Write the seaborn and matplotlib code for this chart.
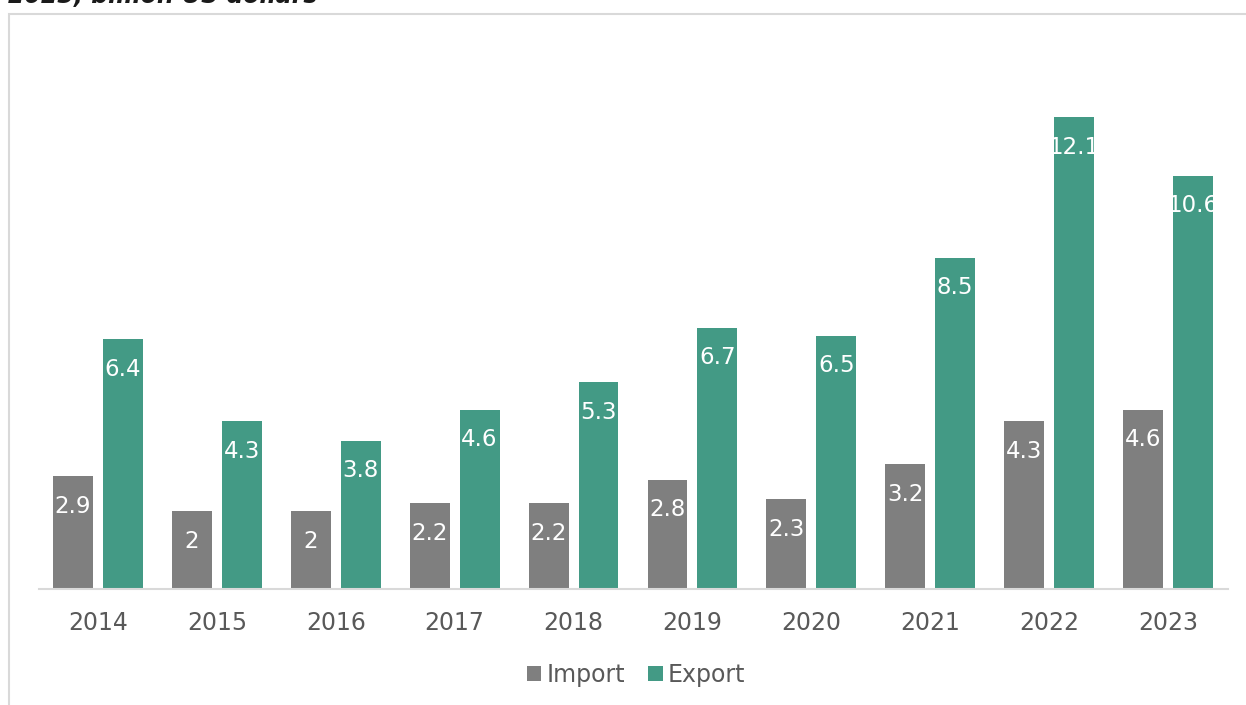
import matplotlib
matplotlib.use("Agg")
import matplotlib.pyplot as plt
import seaborn as sns
import pandas as pd
from matplotlib.patches import Rectangle

years = ["2014", "2015", "2016", "2017", "2018", "2019", "2020", "2021", "2022", "2023"]
imports = [2.9, 2.0, 2.0, 2.2, 2.2, 2.8, 2.3, 3.2, 4.3, 4.6]
exports = [6.4, 4.3, 3.8, 4.6, 5.3, 6.7, 6.5, 8.5, 12.1, 10.6]
series = ["Import", "Export"]
colors = ["#7f7f7f", "#439a85"]
title_text = "2023, billion US dollars"

df = pd.DataFrame({
    "year": years * 2,
    "value": imports + exports,
    "type": [series[0]] * len(years) + [series[1]] * len(years),
})

sns.set_theme(style="white")
plt.rcParams["font.family"] = ["DejaVu Sans"]

W, H = 1246, 705
fig = plt.figure(figsize=(W / 100, H / 100), dpi=100)
ax = fig.add_axes([38.5 / W, 1 - 589 / H, (1227.5 - 38.5) / W, (589 - 43) / H])

sns.barplot(data=df, x="year", y="value", hue="type", palette=colors,
            width=0.84, gap=0.2, saturation=1, linewidth=0, ax=ax, legend=True)

for cont in ax.containers:
    ax.bar_label(cont, fmt="%g", padding=-30, color="white", fontsize=16.5)

ax.set_ylim(0, 14)
ax.set_xlim(-0.5, len(years) - 0.5)
ax.set_xlabel("")
ax.set_ylabel("")
ax.set_yticks([])
for s in ["left", "right", "top"]:
    ax.spines[s].set_visible(False)
ax.spines["bottom"].set_color("#d9d9d9")
ax.spines["bottom"].set_linewidth(1.5)
ax.tick_params(axis="x", length=0, pad=16, labelsize=17, labelcolor="#595959")

handles, labels = ax.get_legend_handles_labels()
ax.legend_.remove()
fig.legend(handles, labels, loc="center", bbox_to_anchor=(636 / W, 1 - 675 / H),
           ncol=2, frameon=False, fontsize=17, labelcolor="#595959",
           handlelength=0.6, handleheight=0.6, handletextpad=0.2, columnspacing=1.0)

# chart border
fig.patches.append(Rectangle((8.5 / W, -0.05), 1.1, 1 - 13.5 / H + 0.05,
                             transform=fig.transFigure, fill=False,
                             edgecolor="#d9d9d9", linewidth=1.5))

# clipped title line (the reference shows only its lower part)
fig.text(8 / W, 1 - 3 / H, title_text, fontsize=17, fontweight="bold",
         fontstyle="italic", color="#1a1a1a", ha="left", va="baseline")

fig.savefig("out.png", dpi=100)
